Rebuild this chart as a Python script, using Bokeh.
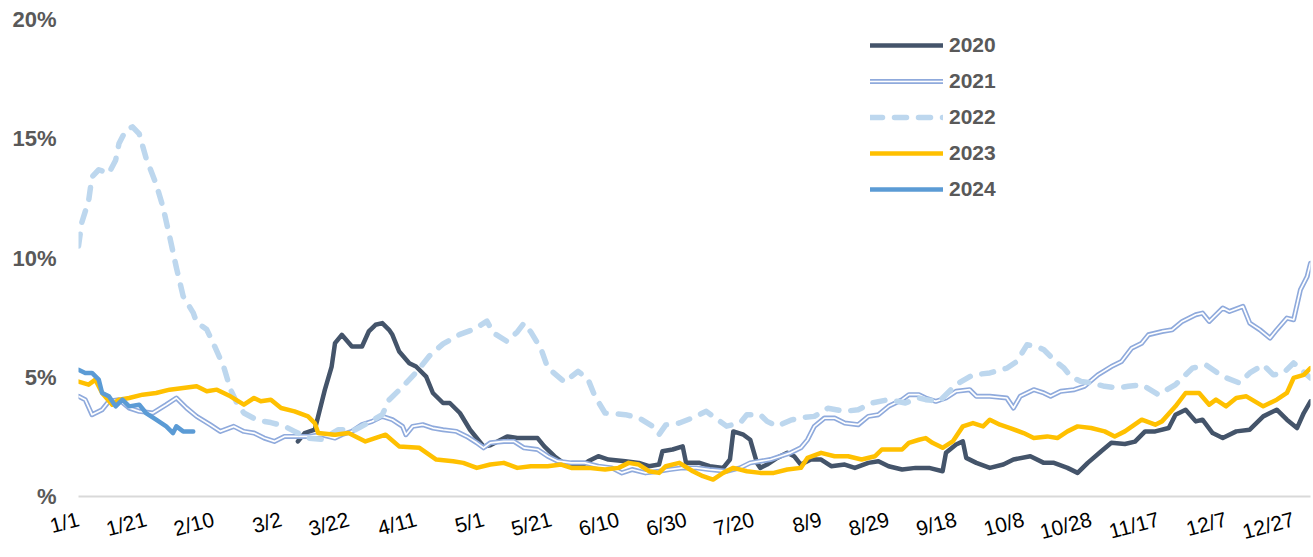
from bokeh.plotting import figure
from bokeh.models import Range1d, FixedTicker, Legend, LegendItem
from bokeh.embed import file_html
from bokeh.resources import INLINE

# ---------------- data (day of year index, value in %) ----------------
tick_days = [0, 20, 40, 60, 80, 100, 120, 140, 160, 180, 200, 220, 240, 260, 280, 300, 320, 340, 360]
tick_labels = ["1/1", "1/21", "2/10", "3/2", "3/22", "4/11", "5/1", "5/21", "6/10", "6/30",
               "7/20", "8/9", "8/29", "9/18", "10/8", "10/28", "11/17", "12/7", "12/27"]
y_ticks = [0, 5, 10, 15, 20]
y_labels = ["%", "5%", "10%", "15%", "20%"]

days_2020 = [65, 67, 70, 71, 73, 75, 76, 78, 81, 84, 86, 88, 90, 92, 93, 95, 98, 100, 103, 105, 108, 110,
             113, 116, 120, 122, 127, 130, 133, 136, 138, 141, 145, 149, 151, 154, 157, 162, 166, 169, 172,
             173, 176, 179, 180, 184, 187, 191, 193, 194, 197, 199, 201, 202, 204, 207, 210, 212, 214, 217,
             220, 223, 227, 230, 234, 237, 240, 244, 248, 252, 256, 257, 260, 262, 263, 266, 270, 274, 277,
             282, 286, 289, 293, 296, 299, 303, 306, 310, 313, 316, 319, 323, 325, 328, 331, 333, 336, 339,
             343, 347, 351, 355, 358, 361, 363, 365]
vals_2020 = [2.31, 2.66, 2.8, 3.36, 4.48, 5.45, 6.43, 6.78, 6.29, 6.29, 6.92, 7.2, 7.27, 6.99, 6.78, 6.08,
             5.59, 5.45, 5.03, 4.34, 3.92, 3.92, 3.5, 2.8, 2.1, 2.15, 2.52, 2.45, 2.45, 2.45, 2.1, 1.69,
             1.27, 1.27, 1.48, 1.69, 1.55, 1.48, 1.41, 1.27, 1.34, 1.9, 1.97, 2.1, 1.41, 1.41, 1.27, 1.2,
             1.55, 2.73, 2.59, 2.38, 1.41, 1.2, 1.34, 1.62, 1.83, 1.69, 1.34, 1.55, 1.55, 1.27, 1.34, 1.2,
             1.41, 1.48, 1.27, 1.13, 1.2, 1.2, 1.06, 1.83, 2.18, 2.31, 1.62, 1.41, 1.2, 1.34, 1.55, 1.69,
             1.41, 1.41, 1.2, 0.99, 1.41, 1.9, 2.25, 2.2, 2.3, 2.73, 2.73, 2.87, 3.43, 3.64, 3.15, 3.22,
             2.66, 2.45, 2.73, 2.8, 3.36, 3.64, 3.22, 2.87, 3.5, 3.99]

days_2021 = [0, 2, 4, 7, 9, 12, 15, 18, 22, 26, 29, 32, 35, 39, 42, 46, 49, 52, 55, 58, 61, 64, 68, 72, 76,
             78, 81, 84, 87, 90, 93, 96, 97, 99, 102, 105, 108, 112, 115, 118, 120, 122, 126, 129, 132, 136,
             139, 142, 146, 150, 154, 158, 161, 164, 168, 172, 175, 179, 183, 187, 192, 196, 199, 202, 205,
             208, 211, 214, 216, 218, 221, 224, 227, 231, 234, 237, 240, 244, 246, 249, 251, 254, 257, 260,
             264, 266, 270, 275, 277, 279, 283, 286, 288, 291, 295, 298, 302, 306, 309, 312, 315, 317, 321,
             324, 327, 331, 333, 335, 339, 341, 345, 347, 350, 353, 355, 358, 360, 362, 364, 365]
vals_2021 = [4.2, 4.06, 3.43, 3.64, 3.99, 4.06, 3.71, 3.57, 3.5, 3.85, 4.13, 3.71, 3.36, 3.01, 2.73, 2.94,
             2.73, 2.66, 2.45, 2.31, 2.52, 2.52, 2.52, 2.59, 2.45, 2.59, 2.73, 3.01, 3.15, 3.36, 3.22, 2.94,
             2.59, 2.94, 3.01, 2.87, 2.8, 2.73, 2.52, 2.25, 2.04, 2.25, 2.31, 2.31, 2.04, 1.97, 1.69, 1.48,
             1.41, 1.41, 1.27, 1.2, 0.99, 1.13, 0.99, 1.06, 1.13, 1.2, 1.2, 1.13, 1.06, 1.2, 1.41, 1.48,
             1.55, 1.69, 1.83, 2.04, 2.38, 2.94, 3.29, 3.29, 3.08, 3.01, 3.36, 3.43, 3.78, 4.06, 4.27, 4.27,
             4.13, 3.99, 4.13, 4.41, 4.48, 4.2, 4.2, 4.13, 3.71, 4.2, 4.48, 4.34, 4.2, 4.41, 4.48, 4.62,
             5.1, 5.45, 5.66, 6.22, 6.43, 6.78, 6.92, 6.99, 7.34, 7.62, 7.69, 7.34, 7.9, 7.76, 7.97, 7.27,
             6.99, 6.64, 6.99, 7.48, 7.41, 8.66, 9.22, 9.78]

days_2022 = [0, 1, 3, 4, 6, 9, 11, 12, 14, 16, 18, 20, 23, 25, 27, 29, 31, 34, 35, 38, 40, 43, 45, 47, 49,
             53, 57, 61, 64, 68, 72, 77, 82, 86, 90, 92, 96, 100, 104, 108, 113, 117, 121, 123, 127, 130,
             132, 134, 137, 139, 144, 148, 151, 153, 156, 162, 166, 170, 172, 174, 178, 182, 186, 188, 192,
             196, 198, 202, 204, 207, 211, 214, 218, 222, 227, 231, 235, 240, 245, 249, 251, 255, 260, 265,
             270, 275, 278, 281, 284, 286, 289, 292, 294, 297, 300, 304, 308, 311, 315, 320, 325, 330, 334,
             339, 344, 347, 351, 354, 357, 360, 365]
vals_2022 = [10.5, 11.5, 12.4, 13.4, 13.7, 13.55, 14.1, 14.8, 15.35, 15.5, 15.2, 14.2, 13.1, 12.15, 10.9,
             9.6, 8.4, 7.7, 7.3, 7.0, 6.4, 5.45, 4.5, 3.9, 3.5, 3.2, 3.1, 2.95, 2.73, 2.45, 2.4, 2.8, 2.8,
             3.1, 3.43, 4.05, 4.6, 5.2, 5.9, 6.4, 6.8, 7.0, 7.35, 6.85, 6.5, 6.9, 7.27, 6.9, 6.2, 5.4, 4.8,
             5.25, 4.9, 4.2, 3.5, 3.43, 3.3, 2.95, 2.6, 3.0, 3.08, 3.3, 3.57, 3.36, 2.95, 3.08, 3.43, 3.43,
             3.15, 2.95, 3.2, 3.3, 3.36, 3.7, 3.57, 3.64, 3.92, 4.06, 3.92, 4.13, 4.06, 3.99, 4.69, 5.1,
             5.18, 5.38, 5.66, 6.36, 6.29, 6.15, 5.73, 5.38, 5.03, 4.82, 4.76, 4.62, 4.55, 4.62, 4.69, 4.27,
             4.69, 5.38, 5.52, 5.03, 4.76, 5.18, 5.52, 5.1, 5.18, 5.6, 4.97]

days_2023 = [0, 3, 5, 7, 10, 12, 15, 19, 23, 27, 31, 35, 38, 41, 45, 49, 52, 54, 57, 60, 64, 68, 70, 71,
             76, 80, 85, 91, 95, 101, 106, 111, 114, 118, 122, 126, 130, 134, 139, 143, 146, 151, 156, 160,
             163, 166, 169, 172, 174, 178, 182, 185, 188, 191, 194, 198, 202, 206, 210, 214, 216, 220, 224,
             228, 232, 236, 238, 244, 246, 249, 251, 253, 256, 259, 262, 265, 268, 270, 273, 276, 280, 283,
             287, 290, 293, 296, 300, 304, 307, 310, 315, 319, 321, 325, 328, 332, 335, 337, 340, 343, 346,
             351, 355, 358, 360, 363, 365]
vals_2023 = [4.82, 4.69, 4.9, 4.34, 3.85, 4.06, 4.13, 4.27, 4.34, 4.48, 4.55, 4.62, 4.41, 4.48, 4.2, 3.85,
             4.13, 3.99, 4.06, 3.71, 3.57, 3.36, 3.08, 2.66, 2.59, 2.66, 2.31, 2.59, 2.1, 2.04, 1.55, 1.48,
             1.41, 1.2, 1.34, 1.41, 1.2, 1.27, 1.27, 1.34, 1.2, 1.2, 1.13, 1.2, 1.41, 1.34, 1.06, 0.99,
             1.27, 1.41, 1.06, 0.85, 0.71, 0.99, 1.2, 1.06, 0.99, 0.99, 1.13, 1.2, 1.62, 1.83, 1.69, 1.69,
             1.55, 1.69, 1.97, 1.97, 2.25, 2.38, 2.45, 2.25, 2.04, 2.31, 2.94, 3.08, 2.94, 3.22, 3.01, 2.87,
             2.66, 2.45, 2.52, 2.45, 2.73, 2.94, 2.87, 2.73, 2.52, 2.73, 3.22, 3.01, 3.15, 3.78, 4.34, 4.34,
             3.85, 4.06, 3.78, 4.13, 4.2, 3.78, 4.06, 4.34, 4.97, 5.1, 5.38]

days_2024 = [0, 2, 4, 6, 7, 9, 11, 13, 15, 18, 20, 23, 26, 28, 29, 31, 34]
vals_2024 = [5.31, 5.18, 5.18, 4.9, 4.34, 4.2, 3.78, 4.06, 3.78, 3.85, 3.5, 3.22, 2.94, 2.66, 2.94, 2.73, 2.73]

# ---------------- figure ----------------
p = figure(width=1313, height=557, output_backend="svg", toolbar_location=None,
           x_range=Range1d(0, 365), y_range=Range1d(0, 20),
           min_border_left=78, min_border_right=3, min_border_top=19, min_border_bottom=60)
p.outline_line_color = None
p.xgrid.grid_line_color = None
p.ygrid.grid_line_color = None
p.background_fill_color = "white"
p.border_fill_color = "white"

# x axis
p.xaxis.ticker = FixedTicker(ticks=tick_days)
p.xaxis.major_label_overrides = {d: l for d, l in zip(tick_days, tick_labels)}
p.xaxis.axis_line_color = "#D9D9D9"
p.xaxis.axis_line_width = 2
p.xaxis.major_tick_line_color = None
p.xaxis.minor_tick_line_color = None
p.xaxis.major_tick_out = 0
p.xaxis.major_tick_in = 0
p.xaxis.major_label_orientation = 0.26
p.xaxis.major_label_standoff = 22
p.xaxis.major_label_text_font = "Liberation Sans"
p.xaxis.major_label_text_font_size = "21px"
p.xaxis.major_label_text_color = "#000000"

# y axis
p.yaxis.ticker = FixedTicker(ticks=y_ticks)
p.yaxis.major_label_overrides = {t: l for t, l in zip(y_ticks, y_labels)}
p.yaxis.axis_line_color = None
p.yaxis.major_tick_line_color = None
p.yaxis.minor_tick_line_color = None
p.yaxis.major_tick_out = 0
p.yaxis.major_tick_in = 0
p.yaxis.major_label_standoff = 22
p.yaxis.major_label_text_font = "Liberation Sans"
p.yaxis.major_label_text_font_size = "22px"
p.yaxis.major_label_text_font_style = "bold"
p.yaxis.major_label_text_color = "#595959"

# lines
r2020 = p.line(days_2020, vals_2020, line_color="#44546A", line_width=4.5, line_join="round", line_cap="round")
r2021a = p.line(days_2021, vals_2021, line_color="#8FAADC", line_width=5, line_join="round", line_cap="round")
r2021b = p.line(days_2021, vals_2021, line_color="white", line_width=1.7, line_join="round", line_cap="round")
r2022 = p.line(days_2022, vals_2022, line_color="#BDD7EE", line_width=5.5, line_dash="12 12",
               line_join="round", line_cap="round")
r2023 = p.line(days_2023, vals_2023, line_color="#FFC000", line_width=4.5, line_join="round", line_cap="round")
r2024 = p.line(days_2024, vals_2024, line_color="#5B9BD5", line_width=4.5, line_join="round", line_cap="round")

legend = Legend(items=[
    LegendItem(label="2020", renderers=[r2020]),
    LegendItem(label="2021", renderers=[r2021a, r2021b]),
    LegendItem(label="2022", renderers=[r2022]),
    LegendItem(label="2023", renderers=[r2023]),
    LegendItem(label="2024", renderers=[r2024]),
], location=(792, 295))
legend.glyph_width = 73
legend.glyph_height = 24
legend.label_height = 24
legend.spacing = 12
legend.padding = 0
legend.margin = 0
legend.label_standoff = 6
legend.border_line_color = None
legend.background_fill_alpha = 0
legend.label_text_font = "Liberation Sans"
legend.label_text_font_size = "21px"
legend.label_text_font_style = "bold"
legend.label_text_color = "#595959"
p.add_layout(legend)

open("out.html", "w").write(file_html(p, INLINE))
